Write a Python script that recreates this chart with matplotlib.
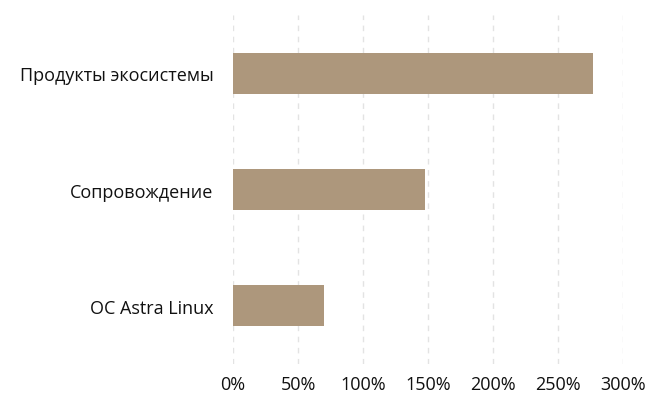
import matplotlib.pyplot as plt
from matplotlib.ticker import FuncFormatter

plt.rcParams['font.family'] = ['Open Sans', 'DejaVu Sans']

categories = ['ОС Astra Linux', 'Сопровождение', 'Продукты экосистемы']
values = [70, 148, 277]
ticks = [0, 50, 100, 150, 200, 250, 300]

fig = plt.figure(figsize=(6.49, 4.02), dpi=100)
ax = fig.add_axes([233 / 649, 1 - 365 / 402, 390 / 649, 349 / 402])

ax.barh(range(len(categories)), values, height=0.35, color='#AD977C', zorder=2)

ax.set_xlim(0, 300)
ax.set_ylim(-0.5, 2.5)
ax.set_xticks(ticks)
ax.xaxis.set_major_formatter(FuncFormatter(lambda v, p: f'{v:.0f}%'))
ax.set_yticks(range(len(categories)))
ax.set_yticklabels(categories)
ax.grid(axis='x', color='#E3E3E3', linestyle=(0, (4, 4)), linewidth=1, zorder=0)
ax.tick_params(length=0, labelsize=13, colors='#111111')
ax.tick_params(axis='x', pad=8)
ax.tick_params(axis='y', pad=14)
for s in ax.spines.values():
    s.set_visible(False)

fig.savefig('out.png', dpi=100)
